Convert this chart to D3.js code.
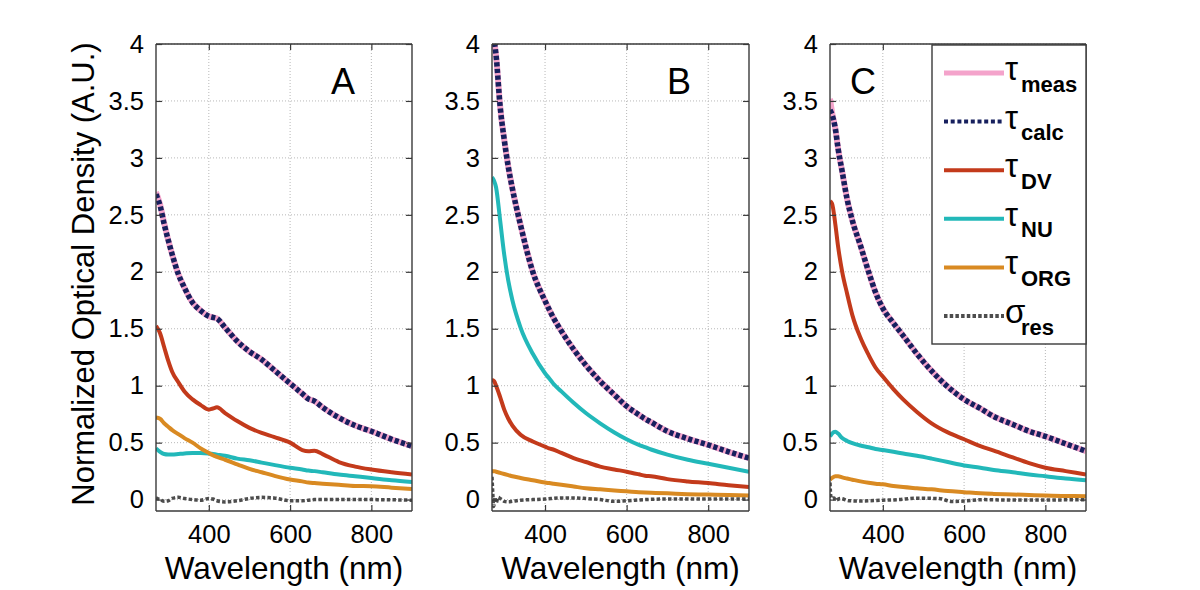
<!DOCTYPE html>
<html><head><meta charset="utf-8">
<script src="https://cdn.jsdelivr.net/npm/d3@7"></script>
<style>
body{margin:0;background:#fff}
text{font-family:"Liberation Sans",Arial,Helvetica,sans-serif;fill:#000}
</style>
</head><body>
<svg id="chart" width="1200" height="590"></svg>
<script>
// ---------------- DATA ----------------
const xTicks = [400, 600, 800];
const yTicks = [0, 0.5, 1, 1.5, 2, 2.5, 3, 3.5, 4];
const yTickLabels = ["0", "0.5", "1", "1.5", "2", "2.5", "3", "3.5", "4"];
const panelLabels = ["A", "B", "C"];
const seriesKeys = ["meas", "calc", "DV", "NU", "ORG", "res"];
const legendSymbols = ["τ", "τ", "τ", "τ", "τ", "σ"];
const legendSubs = ["meas", "calc", "DV", "NU", "ORG", "res"];
const xLabel = "Wavelength (nm)";
const yLabel = "Normalized Optical Density (A.U.)";

// Panel A
const lambdaA = [270,280,290,300,310,325,340,360,380,400,410,420,440,470,500,530,560,600,630,645,660,680,720,760,800,850,900];
const measA = [2.70,2.59,2.43,2.28,2.15,1.98,1.86,1.73,1.66,1.61,1.60,1.59,1.51,1.39,1.30,1.23,1.14,1.02,0.93,0.885,0.865,0.81,0.72,0.65,0.60,0.53,0.47];
const calcA = [2.68,2.58,2.42,2.28,2.15,1.98,1.86,1.73,1.66,1.61,1.60,1.59,1.51,1.39,1.30,1.23,1.14,1.02,0.93,0.885,0.865,0.81,0.72,0.65,0.60,0.53,0.47];
const dvA   = [1.525,1.46,1.34,1.22,1.12,1.03,0.95,0.88,0.83,0.79,0.80,0.81,0.76,0.69,0.63,0.585,0.55,0.50,0.435,0.425,0.43,0.40,0.33,0.29,0.264,0.24,0.22];
const nuA   = [0.45,0.42,0.40,0.395,0.395,0.40,0.405,0.41,0.41,0.405,0.40,0.395,0.385,0.36,0.345,0.325,0.305,0.28,0.265,0.255,0.25,0.24,0.22,0.205,0.19,0.17,0.155];
const orgA  = [0.72,0.71,0.67,0.64,0.61,0.575,0.54,0.50,0.45,0.41,0.39,0.375,0.35,0.31,0.27,0.24,0.21,0.176,0.16,0.15,0.145,0.14,0.13,0.12,0.117,0.105,0.094];
const resLambdaA = [270,280,290,300,310,325,340,360,380,400,410,420,440,470,500,530,560,600,630,660,720,800,900];
const resA  = [0.015,0.0,-0.015,-0.01,0.01,0.02,0.01,0.0,-0.005,0.01,0.005,-0.01,-0.02,-0.01,0.01,0.02,0.015,-0.01,-0.01,0.0,0.0,0.0,-0.005];

// Panel B
const lambdaB = [270,275,280,290,300,310,320,340,370,400,410,420,440,470,500,535,570,600,630,645,660,700,750,800,850,900];
const measB = [4.30,4.05,3.90,3.45,3.16,2.92,2.73,2.41,2.00,1.745,1.67,1.60,1.48,1.32,1.18,1.04,0.92,0.82,0.745,0.71,0.68,0.60,0.535,0.48,0.42,0.365];
const calcB = [4.30,4.05,3.90,3.45,3.16,2.92,2.73,2.41,2.00,1.745,1.67,1.60,1.48,1.32,1.18,1.04,0.92,0.82,0.745,0.71,0.68,0.60,0.535,0.48,0.42,0.365];
const nuB   = [2.83,2.80,2.74,2.45,2.15,1.92,1.75,1.51,1.28,1.11,1.065,1.02,0.95,0.85,0.76,0.67,0.59,0.53,0.48,0.46,0.44,0.395,0.35,0.315,0.28,0.245];
const dvB   = [1.05,1.04,1.00,0.90,0.79,0.71,0.65,0.57,0.51,0.465,0.45,0.44,0.41,0.365,0.33,0.29,0.265,0.245,0.222,0.21,0.205,0.18,0.16,0.145,0.126,0.11];
const orgB  = [0.25,0.25,0.245,0.235,0.225,0.215,0.205,0.19,0.17,0.15,0.145,0.14,0.13,0.115,0.10,0.09,0.08,0.073,0.065,0.062,0.06,0.055,0.048,0.044,0.04,0.035];
const resLambdaB = [270,272,274,277,280,285,290,300,310,320,340,370,400,440,470,500,535,570,600,645,700,800,900];
const resB  = [0.20,0.05,-0.06,0.02,-0.03,0.02,0.01,-0.015,-0.02,-0.015,-0.005,0.0,0.005,0.015,0.015,0.01,0.0,-0.015,-0.01,0.0,0.005,0.005,0.005];

// Panel C
const lambdaC = [270,275,283,290,300,312,325,345,365,382,400,426,450,484,520,560,600,640,673,720,760,800,850,900];
const measC = [3.52,3.40,3.26,3.08,2.88,2.64,2.45,2.23,2.00,1.82,1.68,1.55,1.44,1.28,1.13,0.99,0.88,0.80,0.73,0.66,0.60,0.555,0.49,0.425];
const calcC = [3.42,3.38,3.26,3.08,2.88,2.64,2.45,2.23,2.00,1.82,1.68,1.55,1.44,1.28,1.13,0.99,0.88,0.80,0.73,0.66,0.60,0.555,0.49,0.425];
const dvC   = [2.62,2.60,2.42,2.22,2.00,1.81,1.62,1.42,1.27,1.16,1.08,0.97,0.88,0.77,0.67,0.59,0.53,0.47,0.43,0.37,0.32,0.28,0.25,0.22];
const nuC   = [0.555,0.58,0.595,0.58,0.54,0.515,0.495,0.475,0.46,0.445,0.435,0.42,0.405,0.385,0.36,0.33,0.30,0.28,0.26,0.24,0.22,0.205,0.185,0.17];
const orgC  = [0.175,0.19,0.205,0.205,0.195,0.185,0.175,0.16,0.148,0.14,0.134,0.12,0.11,0.10,0.09,0.075,0.065,0.055,0.05,0.045,0.04,0.035,0.032,0.03];
const resLambdaC = [270,272,275,280,283,296,316,345,400,440,478,538,570,600,650,700,800,900];
const resC  = [0.15,0.03,0.01,0.015,-0.006,0.01,-0.01,-0.012,-0.005,0.0,0.012,0.01,-0.017,-0.012,0.0,-0.003,-0.003,0.0];

// ---------------- BUILD ----------------
const panelsData = [
  {lam: lambdaA, resLam: resLambdaA, meas: measA, calc: calcA, DV: dvA, NU: nuA, ORG: orgA, res: resA},
  {lam: lambdaB, resLam: resLambdaB, meas: measB, calc: calcB, DV: dvB, NU: nuB, ORG: orgB, res: resB},
  {lam: lambdaC, resLam: resLambdaC, meas: measC, calc: calcC, DV: dvC, NU: nuC, ORG: orgC, res: resC}
];

const styles = {
  meas: {color: "#f4a3cb", width: 6, dash: null},
  calc: {color: "#17205e", width: 5.5, dash: "4.2,2.4"},
  DV:   {color: "#c33a1b", width: 4, dash: null},
  NU:   {color: "#22b8b9", width: 4, dash: null},
  ORG:  {color: "#d98a22", width: 4, dash: null},
  res:  {color: "#4d4d4d", width: 3.5, dash: "3.5,2.2"}
};

const svg = d3.select("#chart");
svg.append("rect").attr("width", 1200).attr("height", 590).attr("fill", "#fff");

const plotTop = 44, plotBottom = 511;
const panelX = [[156, 412], [492, 749], [830, 1086]];
const letterOffset = [187, 187, 33];

panelsData.forEach((pd, i) => {
  const [x0, x1] = panelX[i];
  const x = d3.scaleLinear().domain([270, 900]).range([x0, x1]);
  const y = d3.scaleLinear().domain([-0.1, 4]).range([plotBottom, plotTop]);
  const g = svg.append("g");

  // grid
  g.append("g").selectAll("line").data(xTicks).join("line")
    .attr("x1", d => x(d)).attr("x2", d => x(d))
    .attr("y1", plotTop).attr("y2", plotBottom)
    .attr("stroke", "#b8b8b8").attr("stroke-width", 1).attr("stroke-dasharray", "1,2");
  g.append("g").selectAll("line").data(yTicks).join("line")
    .attr("x1", x0).attr("x2", x1)
    .attr("y1", d => y(d)).attr("y2", d => y(d))
    .attr("stroke", "#b8b8b8").attr("stroke-width", 1).attr("stroke-dasharray", "1,2");

  // clip
  const clipId = "clip" + i;
  svg.append("clipPath").attr("id", clipId).append("rect")
    .attr("x", x0).attr("y", plotTop).attr("width", x1 - x0).attr("height", plotBottom - plotTop);

  const line = d3.line().x(d => x(d[0])).y(d => y(d[1])).curve(d3.curveMonotoneX);
  const lines = g.append("g").attr("clip-path", `url(#${clipId})`);
  seriesKeys.forEach(k => {
    const lam = k === "res" ? pd.resLam : pd.lam;
    const pts = lam.map((l, j) => [l, pd[k][j]]);
    const s = styles[k];
    lines.append("path").datum(pts).attr("d", line)
      .attr("fill", "none").attr("stroke", s.color).attr("stroke-width", s.width)
      .attr("stroke-dasharray", s.dash).attr("stroke-linejoin", "round");
  });

  // axes (box with inward ticks)
  const axL = d3.axisLeft(y).tickValues(yTicks).tickSize(-6).tickFormat((d, j) => yTickLabels[j]).tickPadding(12);
  const axR = d3.axisRight(y).tickValues(yTicks).tickSize(-6).tickFormat("");
  const axB = d3.axisBottom(x).tickValues(xTicks).tickSize(-6).tickPadding(14);
  const axT = d3.axisTop(x).tickValues(xTicks).tickSize(-6).tickFormat("");
  const gl = g.append("g").attr("transform", `translate(${x0},0)`).call(axL);
  const gr = g.append("g").attr("transform", `translate(${x1},0)`).call(axR);
  const gb = g.append("g").attr("transform", `translate(0,${plotBottom})`).call(axB);
  const gt = g.append("g").attr("transform", `translate(0,${plotTop})`).call(axT);
  [gl, gr, gb, gt].forEach(a => {
    a.selectAll(".domain").attr("stroke", "#3a3a3a").attr("stroke-width", 1.4);
    a.selectAll(".tick line").attr("stroke", "#3a3a3a").attr("stroke-width", 1.2);
    a.selectAll("text").attr("font-size", 25.5).attr("font-family", '"Liberation Sans", Arial, sans-serif').attr("fill", "#000");
  });
  gl.selectAll(".domain").attr("d", `M0,${plotTop}V${plotBottom}`);
  gr.selectAll(".domain").attr("d", `M0,${plotTop}V${plotBottom}`);
  gb.selectAll(".domain").attr("d", `M${x0},0H${x1}`);
  gt.selectAll(".domain").attr("d", `M${x0},0H${x1}`);

  // x label
  g.append("text").attr("x", (x0 + x1) / 2).attr("y", 579)
    .attr("text-anchor", "middle").attr("font-size", 31.5).text(xLabel);

  // panel letter
  g.append("text").attr("x", x0 + letterOffset[i]).attr("y", 94)
    .attr("text-anchor", "middle").attr("font-size", 36).text(panelLabels[i]);
});

// y label
svg.append("text").attr("transform", "translate(94,274) rotate(-90)")
  .attr("text-anchor", "middle").attr("font-size", 31).text(yLabel);

// legend
const lg = svg.append("g");
lg.append("rect").attr("x", 932).attr("y", 45).attr("width", 154).attr("height", 299)
  .attr("fill", "#fff").attr("stroke", "#3a3a3a").attr("stroke-width", 1.4);
const legendY = d3.scalePoint().domain(seriesKeys).range([73, 316]);
seriesKeys.forEach((k, i) => {
  const s = styles[k];
  const yy = legendY(k);
  lg.append("line").attr("x1", 944).attr("x2", 1004).attr("y1", yy).attr("y2", yy)
    .attr("stroke", s.color).attr("stroke-width", k === "meas" ? 5 : 4)
    .attr("stroke-dasharray", k === "calc" ? "4,2.7" : (k === "res" ? "3.5,2.2" : null));
  const t = lg.append("text").attr("x", 1005).attr("y", yy + 7).attr("font-size", 33);
  t.append("tspan").text(legendSymbols[i]);
  t.append("tspan").attr("x", 1021).attr("y", yy + 18.5).attr("font-size", 22).attr("font-weight", "bold").text(legendSubs[i]);
});
</script>
</body></html>
